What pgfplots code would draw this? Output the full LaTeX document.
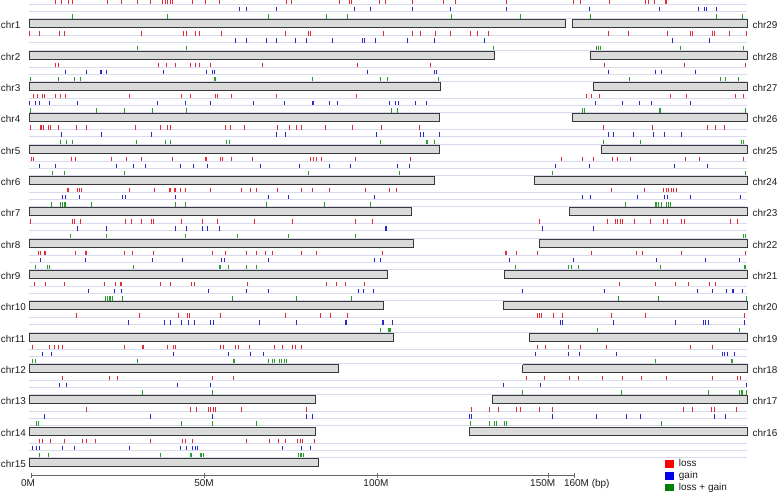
\documentclass[border=0pt]{standalone}
\usepackage{fontspec}
\setmainfont{Liberation Sans}
\usepackage{pgfplots}
\pgfplotsset{compat=1.18}
\definecolor{lossc}{HTML}{E42A32}
\definecolor{gainc}{HTML}{2A2ACC}
\definecolor{bothc}{HTML}{2A9E2A}
\definecolor{trackc}{HTML}{D8D8F0}
\definecolor{barfill}{HTML}{DADADA}
\definecolor{barline}{HTML}{383838}
\definecolor{labc}{HTML}{1E1E1E}
\definecolor{axc}{HTML}{666666}
\pgfplotsset{
 ls/.style={only marks, mark=|, mark size=2.2pt, color=lossc, mark options={line width=1pt}},
 gs/.style={only marks, mark=|, mark size=2.2pt, color=gainc, mark options={line width=1pt}},
 bs/.style={only marks, mark=|, mark size=2.2pt, color=bothc, mark options={line width=1pt}},
 trk/.style={color=trackc, line width=0.8pt, no marks},
 barsty/.style={draw=barline, fill=barfill, line width=1pt, no marks, line join=miter},
}
\tikzset{lbl/.style={font=\fontsize{9.9}{11}\selectfont, inner sep=0pt, text=labc}}
% one row of ticks: style, y, list of x
\newcommand\mytrk[3]{%
  \gdef\myacc{}%
  \foreach \v in {#3}{\xdef\myacc{\myacc(\v,#2)}}%
  \edef\mytmp{\noexpand\addplot[#1] coordinates {\myacc};}\mytmp}
\newcommand\setblk[1]{%
  \pgfmathsetmacro\myc{23.8+31.33*#1}%
  \pgfmathsetmacro\yR{\myc-21.7}%
  \pgfmathsetmacro\yB{\myc-14.6}%
  \pgfmathsetmacro\yG{\myc-7.5}%
  \pgfmathsetmacro\lA{\myc-19.5}%
  \pgfmathsetmacro\lB{\myc-12.4}%
  \pgfmathsetmacro\lC{\myc-5.3}%
  \pgfmathsetmacro\bT{\myc-4}%
  \pgfmathsetmacro\bB{\myc+4}%
  \pgfmathsetmacro\ly{\myc+1.3}}
\newcommand\tracklines[1]{\setblk{#1}%
  \edef\mytmp{\noexpand\addplot[trk] coordinates {(28.5,\lA)(747,\lA)};
  \noexpand\addplot[trk] coordinates {(28.5,\lB)(747,\lB)};
  \noexpand\addplot[trk] coordinates {(28.5,\lC)(747,\lC)};}\mytmp}
% left chromosome: index, name, end, loss, gain, loss+gain
\newcommand\chrL[6]{\setblk{#1}%
  \mytrk{ls}{\yR}{#4}\mytrk{gs}{\yB}{#5}\mytrk{bs}{\yG}{#6}%
  \edef\mytmp{\noexpand\addplot[barsty] coordinates {(29,\bT)(#3,\bT)(#3,\bB)(29,\bB)(29,\bT)};
  \noexpand\node[lbl,anchor=west] at (axis cs:0.8,\ly) {#2};}\mytmp}
% right chromosome: index, name, start, loss, gain, loss+gain
\newcommand\chrR[6]{\setblk{#1}%
  \mytrk{ls}{\yR}{#4}\mytrk{gs}{\yB}{#5}\mytrk{bs}{\yG}{#6}%
  \edef\mytmp{\noexpand\addplot[barsty] coordinates {(#3,\bT)(747,\bT)(747,\bB)(#3,\bB)(#3,\bT)};
  \noexpand\node[lbl,anchor=west] at (axis cs:752.5,\ly) {#2};}\mytmp}
\begin{document}
\begin{tikzpicture}
\begin{axis}[scale only axis, width=778pt, height=497pt,
  xmin=0, xmax=778, ymin=0, ymax=497, y dir=reverse,
  enlargelimits=false, hide axis, clip=false,
  legend entries={loss,gain,loss + gain},
  legend style={at={(axis cs:664.5,457)}, anchor=north west, draw=none, fill=none,
    inner sep=0pt, font=\fontsize{10}{12}\selectfont, row sep=-1pt, column sep=3.5pt,
    nodes={text=labc}},
  legend cell align=left]
\addlegendimage{legend image code/.code={\fill[red] (0pt,-3.4pt) rectangle (8.3pt,3.4pt);}}
\addlegendimage{legend image code/.code={\fill[blue!90!black] (0pt,-3.4pt) rectangle (8.3pt,3.4pt);}}
\addlegendimage{legend image code/.code={\fill[green!50!black] (0pt,-3.4pt) rectangle (8.3pt,3.4pt);}}
\path (axis cs:0,0) rectangle (axis cs:778,497);
\tracklines{0}\tracklines{1}\tracklines{2}\tracklines{3}\tracklines{4}
\tracklines{5}\tracklines{6}\tracklines{7}\tracklines{8}\tracklines{9}
\tracklines{10}\tracklines{11}\tracklines{12}\tracklines{13}\tracklines{14}
% ---------------- left column ----------------
\chrL{0}{chr1}{565.7}{55,61.7,68.3,72.7,107.3,121,137.3,150,162.7,165,167.7,170,172,192.7,205,219,286.7,291,339.3,349,351.7,379,385,385.8,412.7,443,455,506}{239,246.7,276.7,354,370,412.7,450,506}{72.3,167.7,268.5,326.7,347.5,451,520}
\chrL{1}{chr2}{494}{29,39,59,64.3,141.7,183.3,186,195.7,199.3,221,285,308.3,310.7,383.3,412,420.5,435.7,450.7,470.7,477.3,488.7}{235,246,266.7,276.7,295,306.7,332.7,362.7,364.7,375,407,434.5,484.3}{137.7,186.7,493.3}
\chrL{2}{chr3}{440.7}{55,58.3,158.3,166,175.7,190.7,195.7,199,210.7,262.3,357.7,430}{65.7,86.7,100,101,106.7,163.3,206,212.7,214.3,367.3,434.3,436}{30.7,58.3,74,80,214,215.7,312.7,380,387.3,438.3}
\chrL{3}{chr4}{439}{33.3,37.7,42.3,44,55,60,65.7,129.5,181.7,190,215.7,217.3,231.7,276.7,356.7}{29,35,39,49.3,77.3,157.3,185.7,210.7,253.3,284,312.3,313,329,337.7,389.3,395,398.3,415,426}{30.7,96,124.3,152.3,186,391,397.3}
\chrL{4}{chr5}{439.7}{30,40,41.7,43.3,48.3,50,58.3,76,86.7,135.7,160.7,167.7,170,225,230.7,244.3,277.3,289,289.8,296.7,301,325.7,352.3,381,419}{61.7,101.7,151.7,276.7,285,376.7,420,423.3,439}{60,66.7,72.3,136.7,165.7,170.7,226.7,229.3,380,426.7,427.3,434}
\chrL{5}{chr6}{434}{31.7,33.3,71.7,75,111,126.7,141.7,172.7,205,206.7,220,222.7,231,252.7,310,313.3,316,321,355,410}{39,55,116.7,133.3,145.7,180.7,193.3,207.7,260,299,329.3,350.7,397,409.3}{52.3,64.3,124.3,308.3,399}
\chrL{6}{chr7}{411.7}{67.7,68.3,77.7,79.3,81,129,154.3,169,170.7,174,175.7,180,185,210.7,241,250.7,256,277.7,301,312.3,329,365.7,389.3,396.7}{62.3,65.7,79,122.3,125,175,268.3,288.3,374}{51.7,60.7,62.3,64,65.7,91,175.7,185,266.7,324.3,370}
\chrL{7}{chr8}{413}{30,72.3,74,80.7,125.7,131.7,141,151.7,153.3,181,202.7,217.3,254.3,292.3,355,372.3}{77.7,106,175,186.7,202.3,207.7,219.3,385.5,386.3}{70.7,106,185,237.3,288.3,355}
\chrL{8}{chr9}{387.1}{38.3,40,44,45,75.7,85,86.7,124.3,132.3,153.3,212.3,225,246.7,256,265.5,272,301.2,316.1,382.1}{40.7,85.7,152.7,182.7,221.7,224,268,374.7,380.6}{35,47.3,49,133.3,219.3,220.7,228.3,246,256}
\chrL{9}{chr10}{383.1}{34.3,45.7,64,104,104.6,115,120.7,121.7,160.7,170,191,194,247.7,326.6,336.5,345.9,364.8}{88.3,114,121.7,208.4,246.6,268,358.3,363.8,373.7}{105.7,107.3,109,110.7,112.3,122.3,232.3,296.8,351.4}
\chrL{10}{chr11}{393.5}{76.9,139,178.7,187.6,189.1,220.8,285.4,320.1,330,347.4}{128,164.8,170.2,181.1,188.6,194.5,210.9,213.4,259.6,296.3,345.9,346.5,382.1,383.6,392}{380.6,388.1,389.6,390.3}
\chrL{11}{chr12}{338.5}{32.3,49.6,54.6,58.1,62,124.1,142.9,143.5,167.2,173.7,175.2,220.8,223.3,235.7,238.2,249.1,274.4,282.9,292.8,295.3,301.7}{42.2,51.1,173.7,228.3,250.6,263}{32.3,35.7,137.5,233.3,234.7,268,272,274.4,279.4,281.9,284.4,286.8}
\chrL{12}{chr13}{315.1}{62,109.2,117.6,212.4,233.3}{59.6,66,177.2,177.8,210.9}{142.9,212.4}
\chrL{13}{chr14}{315.6}{86.8,190.1,196,208.4,210.9,213.4,215.9,241.7,306.2}{44.7,150.4,212.4,306.2,312.7}{36.2,38.7,181.1,212.4,256.6}
\chrL{14}{chr15}{318.3}{39,42.3,50,64.3,82.3,86,95.7,150,182.7,185.7,192.3,246.7,269,278.3,285.7,297.7,300,302.3,314.3}{32.3,36.7,39,62.3,74,129,180,186.7,192.3,195,197.7,282.7,301,310,310.7}{39,48.3,160.7,190.7,191.7,200,201.7,203.3,298.3,300,301.7,303.3}
% ---------------- right column ----------------
\chrR{0}{chr29}{572.3}{573.3,580,609.3,645,648.3,654,665.7,666.7}{589.3,659.3,698.3,704.5,706.7,716.7}{590,716.5,742.5}
\chrR{1}{chr28}{590.7}{608.3,628.3,667.3,690.7,692.7,712.7,714,729,746.5}{672.7,709}{596,598.3,600,680.5,743}
\chrR{2}{chr27}{593.3}{604.3,684.3,745.7}{608.3,655,661.7,695}{629.3,720.7,725,738.3}
\chrR{3}{chr26}{572.3}{586.7,591.7,599,670,686.7,735,743.3}{595,622.3,639,651.7,690}{582.7,584.3,659.3,660.7,745.7}
\chrR{4}{chr25}{601.7}{603.3,652.7,707.3,715,724}{608.3,613.3,633,633.8,653.3,664.3,681}{603.3,640.7,741.7,743.3}
\chrR{5}{chr24}{534.3}{561.7,582.7,593.3,612.3,617.7,630,685.7,699.3,743.3}{555,589.3,674,707.3}{552.3,745.7}
\chrR{6}{chr23}{569.3}{611.7,644.3,663.3,666,668.3,671,673.3,676}{582.7,590.7,637.7,664,667.3,690,740}{625,655,656.7,658.3,661.7,666.7,668.3,670}
\chrR{7}{chr22}{539.3}{539.3,607.7,615,617.3,620,622.3,634.3,650,663.3,667.3,681,684,730,737.3}{542.7,593.3}{743.3,745}
\chrR{8}{chr21}{504}{505,506,516.7,537.3,591,636.7,642.3,681.7,745}{509,509.8,573.3,656.7,705.7,739.3}{515,568.3,571.7,578.3,660,744.3,745.7}
\chrR{9}{chr20}{503.3}{619.3,655,675,688.3,709,715}{522.3,604.3,697.7,712.3,726,732.3,733.3,742.3}{618.3,658.3,746.7}
\chrR{10}{chr19}{529.5}{537.5,539.5,541.9,553.3,562.3,611.9,645.2,744.4}{560.8,562.3,613.9,675.9,703.2,705.7,708.2,744.4}{597,739.5}
\chrR{11}{chr18}{522.6}{537.5,545.9,568.2,580.6,606.5,690.8,712.2}{535,568.2,579.2,616.9,722.1,724.6,727,734.5}{655.1,731.5,732.5}
\chrR{12}{chr17}{492.3}{526.1,544.9,569.7,578.2,602,622.8,641.2,666,666.7,712.2,737,740.4}{503.7,540,746.9}{522.1,621.3,708.7,739.5,741.9,742.6,746.9}
\chrR{13}{chr16}{469.5}{471.7,489,498.3,516,520.7,539.3,552.3,683.9,692.3,711.2,714.6,736}{469.5,471,552.4,596.5,626.3,640.2,714.6,725.6}{470,489,494.3,496.7,504,506,661.5}
% ---------------- scale ----------------
\addplot[axc, line width=0.8pt, no marks] coordinates {(31.3,475.7)(574.2,475.7)};
\addplot[axc, only marks, mark=|, mark size=2.6pt, mark options={line width=0.8pt}] coordinates {(31.3,475.7)(204.5,475.7)(377.2,475.7)(548.4,475.7)(574.2,475.7)};
\node[lbl, font=\fontsize{10}{12}\selectfont, anchor=base] at (axis cs:28,486.7) {0M};
\node[lbl, font=\fontsize{10}{12}\selectfont, anchor=base] at (axis cs:204,486.7) {50M};
\node[lbl, font=\fontsize{10}{12}\selectfont, anchor=base] at (axis cs:376,486.7) {100M};
\node[lbl, font=\fontsize{10}{12}\selectfont, anchor=base] at (axis cs:542.7,486.7) {150M};
\node[lbl, font=\fontsize{10}{12}\selectfont, anchor=base west] at (axis cs:563.8,486.7) {160M (bp)};
\end{axis}
\end{tikzpicture}
\end{document}
